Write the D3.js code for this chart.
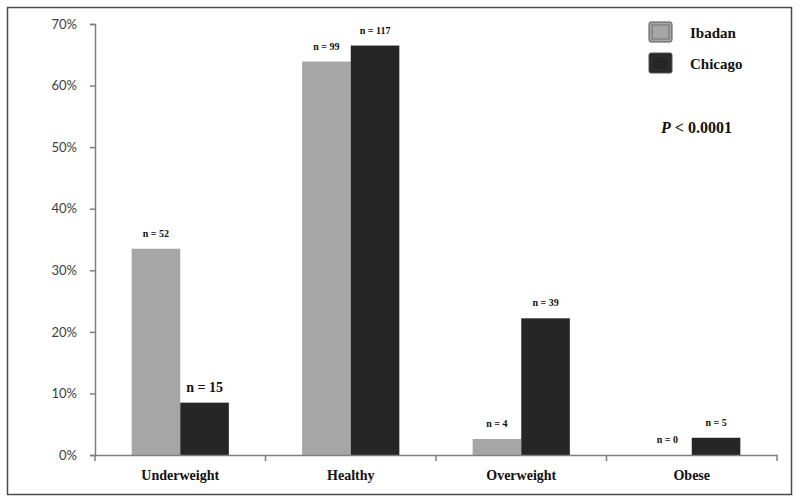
<!DOCTYPE html>
<html>
<head>
<meta charset="utf-8">
<script src="https://cdn.jsdelivr.net/npm/d3@7"></script>
<style>
  body { margin: 0; background: #fff; }
</style>
</head>
<body>
<div id="chart"></div>
<script>
// données
var categories = ["Underweight", "Healthy", "Overweight", "Obese"];
var series = ["Ibadan", "Chicago"];
var ibadan = [33.5, 63.9, 2.6, 0];
var chicago = [8.5, 66.5, 22.2, 2.8];
var ibadanN = ["n = 52", "n = 99", "n = 4", "n = 0"];
var chicagoN = ["n = 15", "n = 117", "n = 39", "n = 5"];
var yTicks = [0, 10, 20, 30, 40, 50, 60, 70];
var colors = {Ibadan: "#a6a6a6", Chicago: "#262626"};

var totalWidth = 800, totalHeight = 502,
    margin = {top: 24, right: 23, bottom: 47, left: 95},
    width = totalWidth - margin.left - margin.right,
    height = totalHeight - margin.top - margin.bottom;

var svg = d3.select("#chart").append("svg")
    .attr("width", totalWidth)
    .attr("height", totalHeight);

// cadre extérieur
svg.append("rect")
    .attr("x", 7.5).attr("y", 7.5)
    .attr("width", 784).attr("height", 487)
    .attr("fill", "none")
    .attr("stroke", "#4a4a4a")
    .attr("stroke-width", 1.5);

var g = svg.append("g")
    .attr("transform", "translate(" + margin.left + "," + margin.top + ")");

// échelles
var x = d3.scaleBand().domain(categories).range([0, width]).padding(0);
var xs = d3.scaleBand().domain(series)
    .range([x.bandwidth() * 0.215, x.bandwidth() * 0.785]);
var y = d3.scaleLinear().domain([0, 70]).range([height, 0]);

var rows = categories.map(function(c, i) {
    return {cat: c, values: [
        {s: "Ibadan", v: ibadan[i], n: ibadanN[i]},
        {s: "Chicago", v: chicago[i], n: chicagoN[i]}
    ]};
});

// barres
var groups = g.selectAll(".grp")
    .data(rows)
    .enter().append("g")
    .attr("class", "grp")
    .attr("transform", function(d) { return "translate(" + x(d.cat) + ",0)"; });

groups.selectAll("rect")
    .data(function(d) { return d.values; })
    .enter().append("rect")
    .attr("x", function(d) { return xs(d.s); })
    .attr("y", function(d) { return y(d.v); })
    .attr("width", xs.bandwidth())
    .attr("height", function(d) { return height - y(d.v); })
    .attr("fill", function(d) { return colors[d.s]; });

// étiquettes n = ...
groups.selectAll("text.n")
    .data(function(d) { return d.values; })
    .enter().append("text")
    .attr("class", "n")
    .attr("x", function(d) { return xs(d.s) + xs.bandwidth() / 2; })
    .attr("y", function(d) { return y(d.v) - (d.n === "n = 15" ? 11 : 12); })
    .attr("text-anchor", "middle")
    .style("font-family", "'Liberation Serif', serif")
    .attr("font-weight", "bold")
    .attr("font-size", function(d) { return d.n === "n = 15" ? 14 : 10; })
    .attr("fill", "#111")
    .text(function(d) { return d.n; });

// axe Y
var yAxis = g.append("g")
    .call(d3.axisLeft(y).tickValues(yTicks).tickSize(5).tickPadding(13)
        .tickFormat(function(d) { return d + "%"; }));
yAxis.selectAll("text")
    .style("font-family", "Lato, 'Liberation Sans', sans-serif")
    .attr("font-size", 13).attr("fill", "#404040");
yAxis.selectAll("line, path").attr("stroke", "#7f7f7f").attr("stroke-width", 1.5);

// axe X
var xAxis = g.append("g")
    .attr("transform", "translate(0," + height + ")")
    .call(d3.axisBottom(x).tickSize(0).tickPadding(15));
xAxis.select(".domain").attr("stroke", "#7f7f7f").attr("stroke-width", 1.5);
xAxis.selectAll("text")
    .style("font-family", "'Liberation Serif', serif")
    .attr("font-weight", "bold")
    .attr("font-size", 14)
    .attr("fill", "#111");
var bounds = categories.map(function(c) { return x(c); }).concat([width]);
xAxis.selectAll("line.sep")
    .data(bounds)
    .enter().append("line")
    .attr("class", "sep")
    .attr("x1", function(d) { return d; })
    .attr("x2", function(d) { return d; })
    .attr("y1", 0).attr("y2", 6)
    .attr("stroke", "#7f7f7f").attr("stroke-width", 1.5);

// légende
var legend = svg.append("g").attr("transform", "translate(649,22)");
var items = legend.selectAll("g")
    .data(series)
    .enter().append("g")
    .attr("transform", function(d, i) { return "translate(0," + (i * 31) + ")"; });
items.append("rect")
    .attr("width", 23).attr("height", 20)
    .attr("rx", 2)
    .attr("fill", function(d) { return colors[d]; })
    .attr("stroke", "#555").attr("stroke-width", 1);
items.append("rect")
    .attr("x", 3).attr("y", 3)
    .attr("width", 17).attr("height", 14)
    .attr("fill", "none")
    .attr("stroke", function(d) { return d === "Ibadan" ? "#666" : "#3a3a3a"; })
    .attr("stroke-width", 0.8);
items.append("text")
    .attr("x", 41).attr("y", 16)
    .style("font-family", "'Liberation Serif', serif")
    .attr("font-weight", "bold")
    .attr("font-size", 15)
    .attr("fill", "#111")
    .text(function(d) { return d; });

// valeur p
var p = svg.append("text")
    .attr("x", 661).attr("y", 133)
    .style("font-family", "'Liberation Serif', serif")
    .attr("font-weight", "bold")
    .attr("font-size", 16)
    .attr("fill", "#111");
p.append("tspan").attr("font-style", "italic").text("P");
p.append("tspan").text(" < 0.0001");
</script>
</body>
</html>
